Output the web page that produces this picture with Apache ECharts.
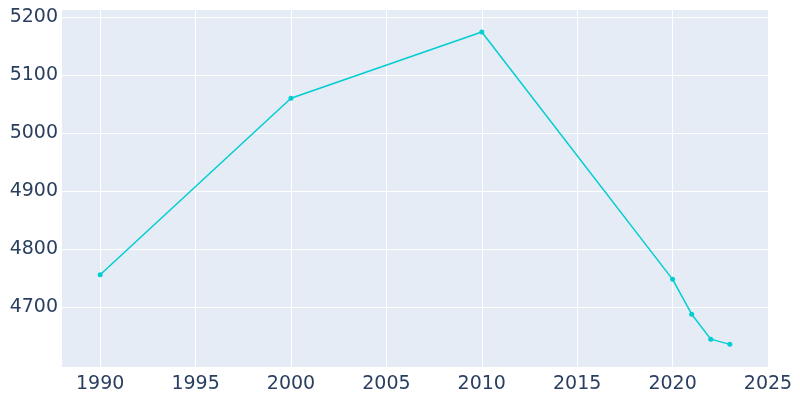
<!DOCTYPE html><html><head><meta charset="utf-8"><script src="https://cdn.jsdelivr.net/npm/echarts@6/dist/echarts.min.js"></script></head><body style="margin:0"><div id="c" style="width:800px;height:400px"></div><script>
const years=[1990,2000,2010,2020,2021,2022,2023];
const population=[4756,5060,5174,4748,4688,4645,4636];
const xTicks=[1990,1995,2000,2005,2010,2015,2020,2025];
const yTicks=[4700,4800,4900,5000,5100,5200];
const ch=echarts.init(document.getElementById('c'));
const lab={color:'#2a3f5f',fontSize:19,fontFamily:'DejaVu Sans',formatter:v=>String(v)};
ch.setOption({animation:false,
grid:{left:62,right:32,top:10,bottom:33,show:true,backgroundColor:'#e5ecf6',borderWidth:0},
xAxis:{type:'value',min:1988,max:2025,axisLine:{show:false},axisTick:{show:false,customValues:xTicks},
axisLabel:Object.assign({customValues:xTicks,margin:8},lab),splitLine:{show:true,lineStyle:{color:'#fff',width:1}}},
yAxis:{type:'value',min:4597,max:5212,axisLine:{show:false},axisTick:{show:false,customValues:yTicks},
axisLabel:Object.assign({customValues:yTicks,margin:4},lab),splitLine:{show:true,lineStyle:{color:'#fff',width:1}}},
series:[{type:'line',data:years.map((y,i)=>[y,population[i]]),lineStyle:{color:'#00ced1',width:1.5},itemStyle:{color:'#00ced1'},symbol:'circle',symbolSize:5}]});
</script></body></html>
